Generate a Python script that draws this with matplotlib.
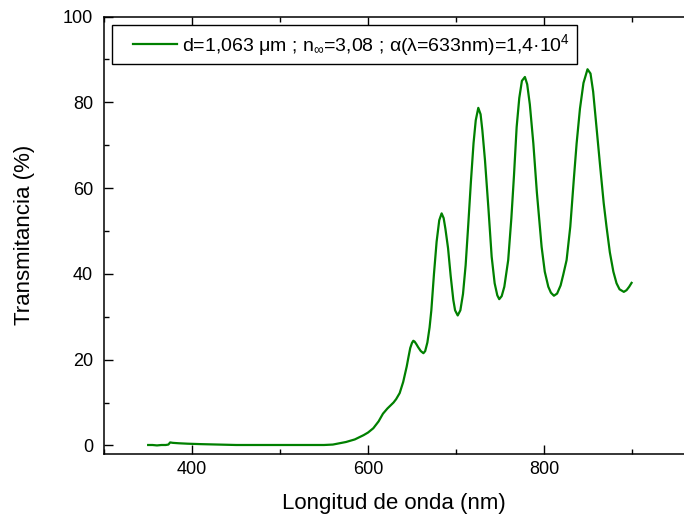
import matplotlib
matplotlib.use("Agg")
from matplotlib import pyplot as plt
from matplotlib.ticker import MultipleLocator
from matplotlib.legend_handler import HandlerLine2D

plt.rcParams['font.family'] = ['Liberation Sans', 'DejaVu Sans']
plt.rcParams['mathtext.fontset'] = 'custom'
plt.rcParams['mathtext.rm'] = 'Liberation Sans'
plt.rcParams['mathtext.it'] = 'Liberation Sans'
plt.rcParams['mathtext.default'] = 'regular'

# transmission spectrum (wavelength nm, T %)
wavelength = [350, 355, 360, 365, 370, 373, 375, 378, 385, 395, 410, 430, 450,
              500, 550, 560, 565, 575, 585, 595, 600, 606, 612, 617, 622, 626,
              629, 632, 636, 640, 642, 644, 646, 648, 650, 651.5, 653, 655, 657,
              660, 663, 665, 667.5, 670, 672, 675, 678, 681, 683.7, 686, 688,
              691, 694, 697, 699, 702, 705, 708, 711, 714, 717, 720, 722.5,
              725.4, 728, 730, 733, 737, 740.6, 744, 747, 749.2, 752, 755,
              759.4, 763, 766, 769, 772, 775, 778.4, 781, 784, 788, 792, 797.4,
              801, 805, 808, 811.4, 815, 819, 822, 825.8, 830, 834, 837.2, 841,
              845, 849.6, 853, 856, 859.8, 864, 868, 871.2, 875, 879, 882.6,
              886, 890.9, 894, 897, 899.7]
transmittance = [0.1, 0.1, 0.0, 0.1, 0.1, 0.2, 0.7, 0.6, 0.5, 0.4, 0.3, 0.2, 0.1,
                 0.1, 0.1, 0.2, 0.4, 0.8, 1.4, 2.4, 3.0, 4.0, 5.6, 7.4, 8.6, 9.4,
                 10.0, 10.8, 12.2, 14.8, 16.6, 18.4, 20.6, 22.7, 23.9, 24.4, 24.2,
                 23.6, 22.9, 22.0, 21.5, 22.0, 24.0, 27.5, 31.5, 40.0, 47.5, 52.5,
                 54.1, 53.0, 50.5, 46.0, 39.5, 33.9, 31.5, 30.3, 31.5, 35.3, 42.0,
                 51.5, 61.5, 70.5, 75.8, 78.7, 77.2, 73.5, 66.5, 55.0, 44.0, 37.8,
                 35.0, 34.1, 34.8, 37.0, 43.2, 53.0, 63.0, 74.2, 81.0, 85.0, 85.9,
                 84.2, 79.5, 70.4, 59.0, 46.3, 40.5, 37.0, 35.6, 34.9, 35.4, 37.3,
                 39.8, 43.2, 51.0, 62.0, 70.4, 78.5, 84.5, 87.7, 86.7, 82.5, 74.2,
                 65.0, 56.5, 51.0, 45.0, 40.5, 37.8, 36.4, 35.8, 36.2, 37.0, 37.9]

legend_label = (u"d=1,063 \u03bcm ; n$_{\\infty}$=3,08 ; "
                u"\u03b1(\u03bb=633nm)=1,4\u00b710$^{4}$")


class GapLine(HandlerLine2D):
    # origin-style legend: empty space before the sample line
    def get_xdata(self, legend, xdescent, ydescent, width, height, fontsize):
        gap = 0.24 * width
        return [-xdescent + gap, width - xdescent], [-xdescent + gap, width - xdescent]


fig = plt.figure(figsize=(6.84, 5.21), dpi=100)
ax = fig.add_axes([104.2 / 684, 67.0 / 521, 1 - 104.2 / 684, 437.5 / 521])

ax.plot(wavelength, transmittance, color='#008000', linewidth=1.6,
        label=legend_label)

ax.set_xlim(300, 300 + (684 - 104.2) / 0.8794)
ax.set_ylim(-2, 100)
ax.xaxis.set_major_locator(MultipleLocator(200))
ax.xaxis.set_minor_locator(MultipleLocator(100))
ax.yaxis.set_major_locator(MultipleLocator(20))
ax.yaxis.set_minor_locator(MultipleLocator(10))
ax.tick_params(which='both', direction='in', top=True, right=False,
               width=1.0, labelsize=13)
ax.tick_params(axis='x', pad=5)
ax.tick_params(axis='y', pad=8)
ax.tick_params(which='major', length=6.5)
ax.tick_params(which='minor', length=3.3)
ax.spines['right'].set_visible(False)
for s in ['left', 'bottom', 'top']:
    ax.spines[s].set_linewidth(1.1)

ax.set_xlabel('Longitud de onda (nm)', fontsize=16, labelpad=11)
ax.set_ylabel('Transmitancia (%)', fontsize=16, labelpad=20)

leg = ax.legend(loc='upper left', bbox_to_anchor=(0.0136, 0.9806),
                borderaxespad=0, fontsize=14, handlelength=2.98,
                handletextpad=0.26, borderpad=0.35, fancybox=False,
                framealpha=1, edgecolor='black',
                handler_map={plt.Line2D: GapLine()})
leg.get_frame().set_linewidth(1.0)

plt.savefig("out.png", dpi=100)
